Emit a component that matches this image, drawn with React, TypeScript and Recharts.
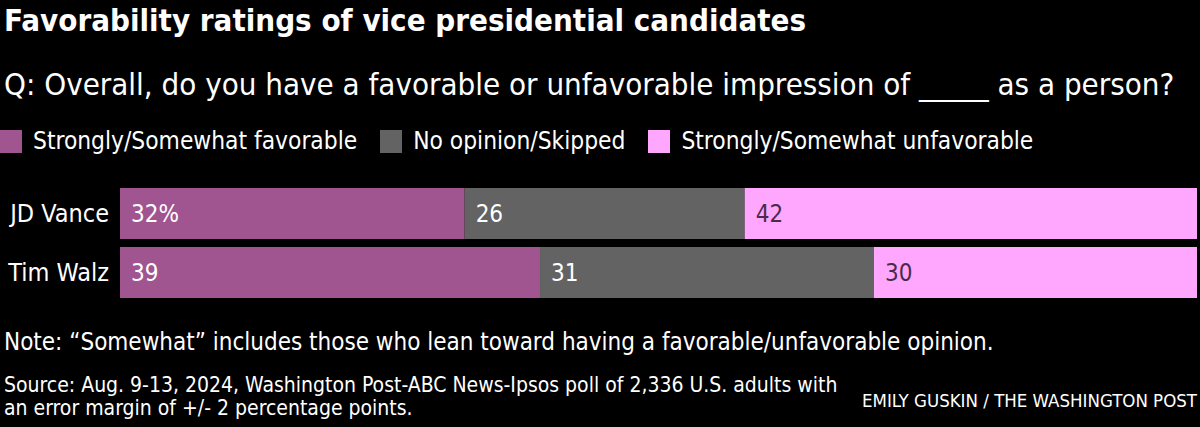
import { BarChart, Bar, XAxis, YAxis, LabelList } from 'recharts';

const candidates = ['JD Vance', 'Tim Walz'];
const favorable = [32, 39];
const noOpinion = [26, 31];
const unfavorable = [42, 30];

const seriesNames = ['Strongly/Somewhat favorable', 'No opinion/Skipped', 'Strongly/Somewhat unfavorable'];
const seriesColors = ['#a05590', '#636363', '#ffa6ff'];

const data = candidates.map((name, i) => ({
  name,
  favorable: favorable[i],
  noOpinion: noOpinion[i],
  unfavorable: unfavorable[i],
}));

const FONT = '"Liberation Sans Narrow", "DejaVu Sans Condensed", "Roboto Condensed", sans-serif';

function makeLabel(color: string, withPct: boolean) {
  return (props: any) => {
    const { x, y, height, value, index } = props;
    const text = withPct && index === 0 ? `${value}%` : `${value}`;
    return (
      <text
        x={x + 11}
        y={y + height / 2}
        dy="0.36em"
        fill={color}
        fontSize={24}
        fontFamily={FONT}
      >
        {text}
      </text>
    );
  };
}

export default function App() {
  return (
    <div
      style={{
        position: 'absolute',
        left: 0,
        top: 0,
        width: 1200,
        height: 427,
        background: '#000',
        color: '#fff',
        fontFamily: FONT,
        overflow: 'hidden',
      }}
    >
      <div style={{ position: 'absolute', left: 4, top: 1, fontSize: 31, fontWeight: 700, lineHeight: '38px' }}>
        Favorability ratings of vice presidential candidates
      </div>
      <div style={{ position: 'absolute', left: 4, top: 66, fontSize: 31, lineHeight: '36px' }}>
        Q: Overall, do you have a favorable or unfavorable impression of _____ as a person?
      </div>

      <div style={{ position: 'absolute', left: 0, top: 127, display: 'flex', alignItems: 'center', fontSize: 24.3, lineHeight: '28px' }}>
        {seriesNames.map((s, i) => (
          <div key={s} style={{ display: 'flex', alignItems: 'center', marginRight: 23 }}>
            <span style={{ display: 'inline-block', width: 22, height: 23, background: seriesColors[i], marginRight: 11 }} />
            <span>{s}</span>
          </div>
        ))}
      </div>

      <div style={{ position: 'absolute', left: 0, top: 180 }}>
        <BarChart
          width={1200}
          height={127}
          data={data}
          layout="vertical"
          margin={{ top: 4, right: 3, left: 0, bottom: 5 }}
          barCategoryGap={4}
        >
          <XAxis type="number" domain={[0, 100]} hide />
          <YAxis
            type="category"
            dataKey="name"
            width={120}
            axisLine={false}
            tickLine={false}
            tickMargin={5}
            tick={{ fill: '#fff', fontSize: 25, fontFamily: FONT }}
          />
          <Bar dataKey="favorable" stackId="a" fill={seriesColors[0]} isAnimationActive={false}>
            <LabelList dataKey="favorable" content={makeLabel('#fff', true)} />
          </Bar>
          <Bar dataKey="noOpinion" stackId="a" fill={seriesColors[1]} isAnimationActive={false}>
            <LabelList dataKey="noOpinion" content={makeLabel('#fff', false)} />
          </Bar>
          <Bar dataKey="unfavorable" stackId="a" fill={seriesColors[2]} isAnimationActive={false}>
            <LabelList dataKey="unfavorable" content={makeLabel('#4a2c4a', false)} />
          </Bar>
        </BarChart>
      </div>

      <div style={{ position: 'absolute', left: 4, top: 327, fontSize: 24, lineHeight: '30px' }}>
        Note: “Somewhat” includes those who lean toward having a favorable/unfavorable opinion.
      </div>
      <div style={{ position: 'absolute', left: 4, top: 374, fontSize: 21, lineHeight: '23px' }}>
        Source: Aug. 9-13, 2024, Washington Post-ABC News-Ipsos poll of 2,336 U.S. adults with
        <br />
        an error margin of +/- 2 percentage points.
      </div>
      <div style={{ position: 'absolute', right: 3, top: 390, fontSize: 18.5, lineHeight: '22px' }}>
        EMILY GUSKIN / THE WASHINGTON POST
      </div>
    </div>
  );
}
